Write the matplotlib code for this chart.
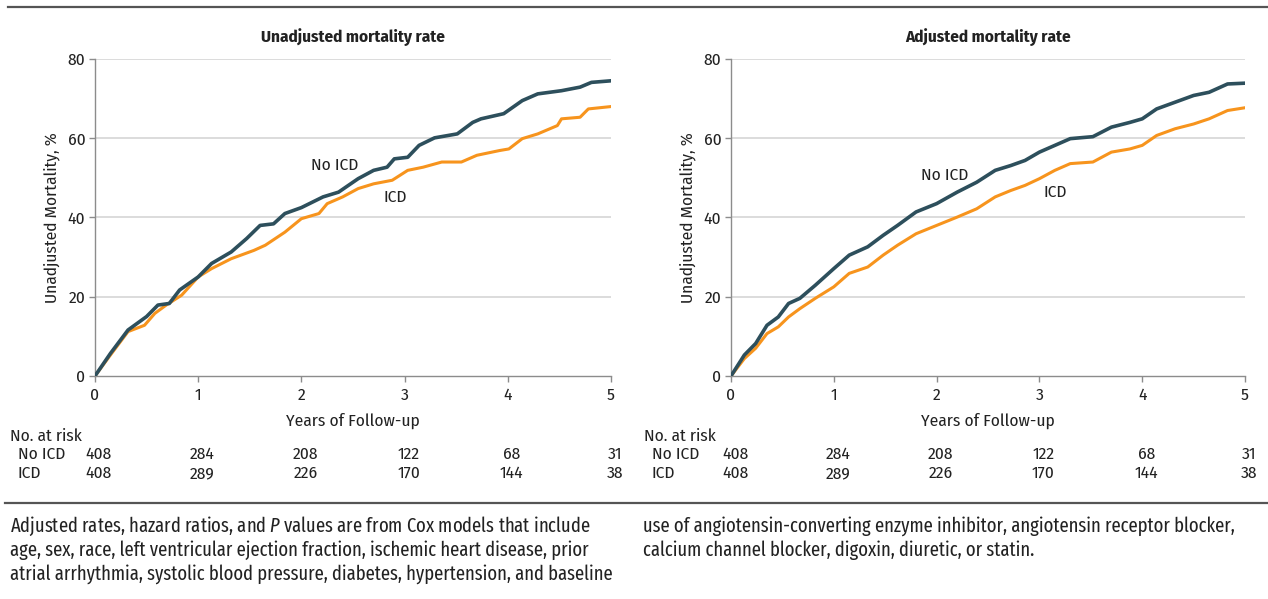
import matplotlib
matplotlib.use("Agg")
import matplotlib.pyplot as plt
import matplotlib.transforms as mtransforms
from matplotlib.lines import Line2D

plt.rcParams['font.family'] = ['Fira Sans Condensed', 'DejaVu Sans']
plt.rcParams['mathtext.fontset'] = 'custom'
plt.rcParams['mathtext.rm'] = 'Fira Sans Extra Condensed'
plt.rcParams['mathtext.it'] = 'Fira Sans Extra Condensed:italic'

# --- data (years, % mortality) ---
unadj_noicd_t = [0, 0.15, 0.32, 0.5, 0.61, 0.72, 0.82, 1.0, 1.13, 1.32, 1.47, 1.6, 1.73, 1.84,
                 2.0, 2.21, 2.36, 2.55, 2.7, 2.83, 2.9, 3.03, 3.14, 3.29, 3.51, 3.66, 3.74,
                 3.96, 4.14, 4.29, 4.52, 4.7, 4.81, 5.0]
unadj_noicd_v = [0, 5.7, 11.6, 15.0, 17.9, 18.3, 21.7, 25.0, 28.4, 31.3, 34.7, 38.0, 38.4, 41.0,
                 42.5, 45.2, 46.4, 49.8, 51.9, 52.7, 54.8, 55.2, 58.2, 60.1, 61.1, 64.0, 64.9,
                 66.2, 69.5, 71.2, 72.0, 72.9, 74.1, 74.5]
unadj_icd_t = [0, 0.15, 0.32, 0.48, 0.58, 0.69, 0.84, 1.0, 1.13, 1.32, 1.54, 1.65, 1.84, 2.0,
               2.17, 2.25, 2.4, 2.55, 2.7, 2.88, 3.03, 3.18, 3.36, 3.55, 3.7, 3.92, 4.01,
               4.14, 4.29, 4.48, 4.52, 4.7, 4.78, 5.0]
unadj_icd_v = [0, 5.3, 11.2, 12.8, 15.8, 17.9, 20.4, 25.0, 27.1, 29.6, 31.7, 33.0, 36.3, 39.7,
               41.0, 43.5, 45.2, 47.3, 48.5, 49.4, 51.9, 52.7, 54.0, 54.0, 55.7, 56.9, 57.3,
               59.9, 61.1, 63.2, 64.9, 65.3, 67.4, 68.0]

adj_t = [0, 0.13, 0.24, 0.35, 0.46, 0.56, 0.67, 0.82, 1.0, 1.15, 1.33, 1.48, 1.62, 1.8,
         2.0, 2.2, 2.39, 2.57, 2.72, 2.86, 3.0, 3.15, 3.3, 3.52, 3.7, 3.88, 4.0,
         4.14, 4.32, 4.5, 4.65, 4.83, 5.0]
adj_noicd_v = [0, 5.3, 8.2, 12.8, 14.9, 18.3, 19.6, 22.9, 27.1, 30.5, 32.6, 35.5, 38.0, 41.4,
               43.5, 46.4, 48.9, 51.9, 53.1, 54.4, 56.5, 58.2, 59.9, 60.4, 62.8, 64.0, 64.9,
               67.4, 69.1, 70.8, 71.6, 73.7, 73.9]
adj_icd_v = [0, 4.4, 7.0, 10.7, 12.4, 14.9, 17.0, 19.6, 22.5, 25.9, 27.5, 30.5, 33.0, 35.9,
             38.0, 40.1, 42.2, 45.2, 46.8, 48.1, 49.8, 51.9, 53.6, 54.0, 56.5, 57.3, 58.2,
             60.7, 62.4, 63.6, 64.9, 67.0, 67.7]

risk_years = [0, 1, 2, 3, 4, 5]
risk_noicd = [408, 284, 208, 122, 68, 31]
risk_icd = [408, 289, 226, 170, 144, 38]

NOICD_COLOR = '#2d4f5c'
ICD_COLOR = '#f7941d'
GRID = '#dcdcdc'
AXIS = '#8c8c8c'
TEXT = '#222222'
FS = 12.5
NOTE_FONT = ['Fira Sans Extra Condensed', 'DejaVu Sans']

fig = plt.figure(figsize=(12.68, 5.99), dpi=100)

panels = [
    dict(rect=[0.0749, 0.3723, 0.4070, 0.5292], title='Unadjusted mortality rate',
         t_no=unadj_noicd_t, v_no=unadj_noicd_v, t_icd=unadj_icd_t, v_icd=unadj_icd_v,
         lab_no=(2.32, 53.1), lab_icd=(2.91, 45.2), ylab_x=0.041, left=0.008),
    dict(rect=[0.5765, 0.3723, 0.4054, 0.5292], title='Adjusted mortality rate',
         t_no=adj_t, v_no=adj_noicd_v, t_icd=adj_t, v_icd=adj_icd_v,
         lab_no=(2.08, 50.6), lab_icd=(3.15, 46.4), ylab_x=0.542, left=0.508),
]

for p in panels:
    ax = fig.add_axes(p['rect'])
    ax.set_xlim(0, 5)
    ax.set_ylim(0, 80)
    for y in [20, 40, 60, 80]:
        ax.axhline(y, color=GRID, lw=1.4, zorder=0)
    ax.plot(p['t_icd'], p['v_icd'], color=ICD_COLOR, lw=2.2, zorder=3)
    ax.plot(p['t_no'], p['v_no'], color=NOICD_COLOR, lw=2.6, zorder=4)
    ax.text(*p['lab_no'], 'No ICD', fontsize=FS, color=TEXT, ha='center', va='center')
    ax.text(*p['lab_icd'], 'ICD', fontsize=FS, color=TEXT, ha='center', va='center')

    for s in ['top', 'right']:
        ax.spines[s].set_visible(False)
    for s in ['left', 'bottom']:
        ax.spines[s].set_color(AXIS)
        ax.spines[s].set_linewidth(1.0)
    ax.set_xticks(risk_years)
    ax.set_yticks([0, 20, 40, 60, 80])
    ax.tick_params(axis='both', colors=AXIS, labelcolor=TEXT, labelsize=FS,
                   length=4, width=1.0)
    ax.tick_params(axis='x', pad=4)
    ax.tick_params(axis='y', pad=3)
    ax.set_title(p['title'], fontsize=12.3, fontweight='bold', color=TEXT, pad=12)
    ax.set_xlabel('Years of Follow-up', fontsize=FS, color=TEXT, labelpad=7)
    fig.text(p['ylab_x'], 0.637, 'Unadjusted Mortality, %', rotation=90, fontsize=FS,
             color=TEXT, ha='center', va='center')

    # number at risk table
    tr = mtransforms.blended_transform_factory(ax.transData, fig.transFigure)
    off = mtransforms.offset_copy(tr, fig=fig, x=4, y=0, units='dots')
    fig.text(p['left'], 0.272, 'No. at risk', fontsize=FS, color=TEXT, va='center')
    fig.text(p['left'] + 0.006, 0.242, 'No ICD', fontsize=FS, color=TEXT, va='center')
    fig.text(p['left'] + 0.006, 0.210, 'ICD', fontsize=FS, color=TEXT, va='center')
    for yr, a, b in zip(risk_years, risk_noicd, risk_icd):
        ax.text(yr, 0.242, str(a), transform=off, fontsize=FS, color=TEXT,
                ha='center', va='center', clip_on=False)
        ax.text(yr, 0.210, str(b), transform=off, fontsize=FS, color=TEXT,
                ha='center', va='center', clip_on=False)

# rules at top and above the footnote
fig.add_artist(Line2D([0.006, 1.0], [0.988, 0.988], color='#555555', lw=1.6,
                      transform=fig.transFigure))
fig.add_artist(Line2D([0.004, 1.0], [0.160, 0.160], color='#555555', lw=1.6,
                      transform=fig.transFigure))

left_note = [
    r'Adjusted rates, hazard ratios, and $\it{P}$ values are from Cox models that include',
    'age, sex, race, left ventricular ejection fraction, ischemic heart disease, prior',
    'atrial arrhythmia, systolic blood pressure, diabetes, hypertension, and baseline',
]
right_note = [
    'use of angiotensin-converting enzyme inhibitor, angiotensin receptor blocker,',
    'calcium channel blocker, digoxin, diuretic, or statin.',
]
for i, line in enumerate(left_note):
    fig.text(0.008, 0.112 - i * 0.040, line, fontsize=14.5, color=TEXT, va='baseline',
             family=NOTE_FONT)
for i, line in enumerate(right_note):
    fig.text(0.507, 0.112 - i * 0.040, line, fontsize=14.5, color=TEXT, va='baseline',
             family=NOTE_FONT)

fig.savefig('out.png', dpi=100)
